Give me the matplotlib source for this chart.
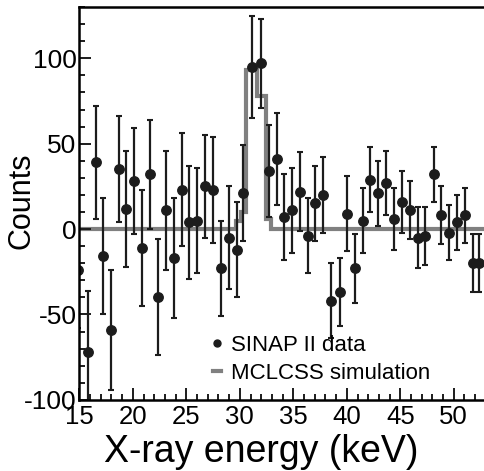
import numpy as np
import matplotlib
matplotlib.use('Agg')
import matplotlib.pyplot as plt
from matplotlib.lines import Line2D
from matplotlib.ticker import MultipleLocator

plt.rcParams['font.family'] = ['Liberation Sans', 'DejaVu Sans']
plt.rcParams['axes.unicode_minus'] = False

energy = [14.9, 15.83, 16.51, 17.22, 17.96, 18.67, 19.38, 20.09, 20.83, 21.64,
          22.33, 23.08, 23.83, 24.57, 25.28, 25.99, 26.76, 27.53, 28.27, 29.01,
          29.72, 30.34, 31.17, 31.94, 32.71, 33.43, 34.14, 34.88, 35.59, 36.36,
          37.07, 37.81, 38.55, 39.32, 40.03, 40.77, 41.48, 42.19, 42.93, 43.7,
          44.41, 45.19, 45.9, 46.64, 47.35, 48.12, 48.83, 49.57, 50.28, 51.05,
          51.76, 52.4]
counts = [-24, -72, 39, -16, -59, 35, 12, 28, -11, 32,
          -40, 11, -17, 23, 4, 5, 25, 23, -23, -5,
          -12, 21, 95, 97, 34, 41, 7, 11, 22, -4,
          15, 20, -42, -37, 9, -23, 5, 29, 21, 27,
          6, 16, 11, -5, -4, 32, 8, -2, 4, 8,
          -20, -20]
errors = [34, 36, 33, 34, 35, 31, 34, 31, 34, 32,
          34, 35, 35, 33, 33, 31, 30, 31, 28, 30,
          28, 28, 30, 26, 27, 27, 25, 25, 23, 22,
          22, 22, 22, 20, 22, 20, 19, 19, 19, 19,
          18, 18, 17, 18, 17, 16, 17, 16, 16, 16,
          17, 17]

# MCLCSS simulation, step histogram
sim_edges = [14.0, 29.65, 30.1, 30.6, 31.6, 32.4, 32.9, 55.0]
sim_counts = [0, 5, 10, 93, 78, 6, 0]

fig = plt.figure(figsize=(4.84, 4.71), dpi=100)
# axes runs past the right edge, the original figure is cropped there
ax = fig.add_axes([0.164, 0.151, 0.862, 0.834])

ax.stairs(sim_counts, sim_edges, color='#808080', linewidth=3.0, zorder=1)
ax.errorbar(energy, counts, yerr=errors, fmt='o', color='#1c1c1c',
            markersize=6.8, elinewidth=1.6, capsize=2.2, capthick=1.5, zorder=2)

ax.set_xlim(15, 54)
ax.set_ylim(-100, 130)
ax.xaxis.set_major_locator(MultipleLocator(5))
ax.xaxis.set_minor_locator(MultipleLocator(1))
ax.yaxis.set_major_locator(MultipleLocator(50))
ax.yaxis.set_minor_locator(MultipleLocator(10))
ax.set_xticks([15, 20, 25, 30, 35, 40, 45, 50])
ax.set_yticks([-100, -50, 0, 50, 100])

ax.tick_params(which='both', direction='in', top=False, right=False, width=1.4, color='#1c1c1c')
ax.tick_params(which='major', length=8.5)
ax.tick_params(which='minor', length=4.3)
ax.tick_params(axis='x', labelsize=18.5, pad=4)
ax.tick_params(axis='y', labelsize=19, pad=2)
for side in ['left', 'bottom', 'top']:
    ax.spines[side].set_linewidth(1.8)
ax.spines['right'].set_visible(False)

ax.set_xlabel('X-ray energy (keV)', fontsize=27)
ax.set_ylabel('Counts', fontsize=22)
ax.xaxis.set_label_coords(0.437, -0.132)
ax.yaxis.set_label_coords(-0.138, 0.506)
ax.xaxis.label.set_va('center')
ax.yaxis.label.set_va('center')

handles = [Line2D([], [], linestyle='none', marker='o', markersize=5, color='#1c1c1c'),
           Line2D([], [], color='#808080', linewidth=3)]
ax.legend(handles, ['SINAP II data', 'MCLCSS simulation'], loc='upper left',
          bbox_to_anchor=(0.32, 0.165), frameon=False, fontsize=16,
          handlelength=0.35, handletextpad=0.45, labelspacing=0.3,
          borderpad=0, borderaxespad=0)

fig.savefig('out.png', dpi=100)
